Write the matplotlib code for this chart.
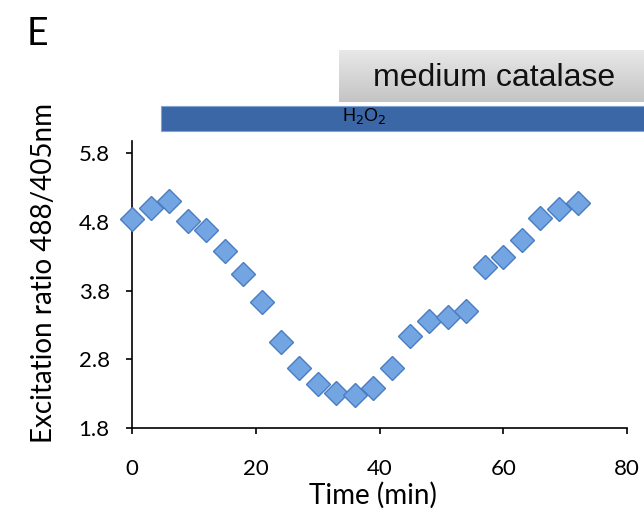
import numpy as np
import matplotlib
matplotlib.use("Agg")
import matplotlib.pyplot as plt
from matplotlib.patches import Rectangle
from matplotlib.transforms import blended_transform_factory
from matplotlib.colors import LinearSegmentedColormap

# ---- data ----
time_min = [0, 3, 6, 9, 12, 15, 18, 21, 24, 27, 30, 33, 36, 39, 42, 45, 48, 51,
            54, 57, 60, 63, 66, 69, 72]
ratio = [4.84, 5.00, 5.11, 4.82, 4.68, 4.38, 4.04, 3.64, 3.05, 2.68, 2.44, 2.31,
         2.28, 2.38, 2.68, 3.14, 3.36, 3.41, 3.51, 4.14, 4.29, 4.54, 4.85, 4.99, 5.08]
y_ticks = [1.8, 2.8, 3.8, 4.8, 5.8]
x_ticks = [0, 20, 40, 60, 80]
h2o2_start = 4.7
catalase_start = 33.4
panel_label = "E"
x_label = "Time (min)"
y_label = "Excitation ratio 488/405nm"
bar_label = "H$_2$O$_2$"
box_label = "medium catalase"

plt.rcParams['font.family'] = ['Lato', 'DejaVu Sans']

fig = plt.figure(figsize=(6.44, 5.12), dpi=100)
ax = fig.add_axes([0.205, 0.164, 0.7686, 0.561])

ax.plot(time_min, ratio, linestyle='none', marker='D', markersize=12,
        markerfacecolor='#74a5e3', markeredgecolor='#4a7cc0', markeredgewidth=1.0,
        clip_on=False, zorder=3)

ax.set_xlim(0, 80)
ax.set_ylim(1.8, 5.98)
ax.set_xticks(x_ticks)
ax.set_yticks(y_ticks)
ax.set_yticklabels([f"{v:.1f}" for v in y_ticks])
for s in ['top', 'right']:
    ax.spines[s].set_visible(False)
for s in ['left', 'bottom']:
    ax.spines[s].set_linewidth(1.2)
    ax.spines[s].set_color('black')
ax.tick_params(axis='both', direction='out', length=4, width=1.2, labelsize=16,
               colors='black')
ax.tick_params(axis='x', pad=18)
ax.tick_params(axis='y', pad=12)
ax.set_xlabel(x_label, fontsize=20)
ax.set_ylabel(y_label, fontsize=20)
ax.xaxis.set_label_coords(0.487, -0.188)
ax.yaxis.set_label_coords(-0.152, 0.54)

# ---- treatment bars ----
trans = blended_transform_factory(ax.transData, fig.transFigure)
bar_y0 = 1 - 130.7 / 512
bar_y1 = 1 - 105.7 / 512
ax.add_patch(Rectangle((h2o2_start, bar_y0), 200, bar_y1 - bar_y0, transform=trans,
                       facecolor='#3b67a7', edgecolor='#7fa3d4', linewidth=0.8,
                       clip_on=False, zorder=2))
ax.text(37.6, 1 - 116.5 / 512, bar_label, transform=trans,
        ha='center', va='center', fontsize=13, color='black',
        family=['Liberation Sans', 'DejaVu Sans'])

# gradient gray box
fig.canvas.draw()
x_fig0 = fig.transFigure.inverted().transform(ax.transData.transform((catalase_start, 0)))[0]
box_y0 = 1 - 101.7 / 512
box_y1 = 1 - 50 / 512
bax = fig.add_axes([x_fig0, box_y0, 1.0 - x_fig0 + 0.01, box_y1 - box_y0])
grad = np.linspace(0, 1, 256).reshape(-1, 1)
cmap = LinearSegmentedColormap.from_list('g', ['#e8e8e8', '#c4c4c4'])
bax.imshow(grad, aspect='auto', cmap=cmap, extent=[0, 1, 0, 1], origin='upper')
bax.set_axis_off()
fig.text(494 / 644, 1 - 78 / 512, box_label, ha='center', va='center', fontsize=23,
         color='#111111', family=['Liberation Sans', 'DejaVu Sans'])

fig.text(0.042, 1 - 34 / 512, panel_label, ha='left', va='center', fontsize=27)

fig.savefig('out.png', dpi=100)
